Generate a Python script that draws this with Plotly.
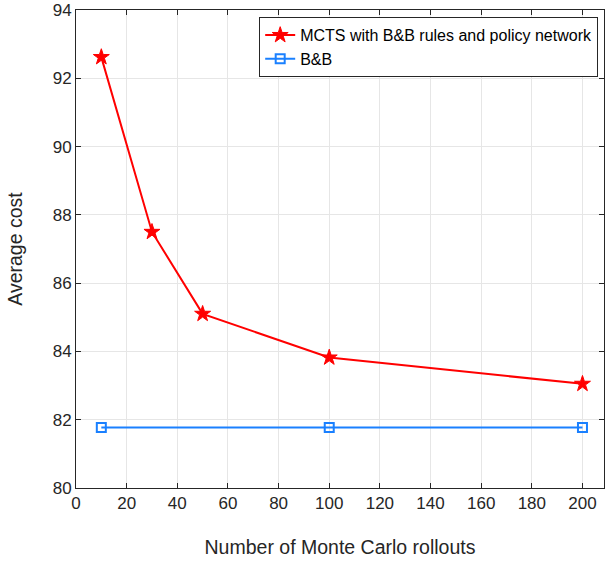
import plotly.graph_objects as go

rollouts = [10, 30, 50, 100, 200]
mcts_cost = [92.62, 87.50, 85.10, 83.82, 83.05]
bb_x = [10, 100, 200]
bb_cost = [81.77, 81.77, 81.77]

x_ticks = list(range(0, 201, 20))
y_ticks = list(range(80, 95, 2))

FONT = "Liberation Sans, Arial, sans-serif"

fig = go.Figure()
fig.add_trace(go.Scatter(
    x=rollouts, y=mcts_cost, mode="lines+markers",
    name="MCTS with B&B rules and policy network",
    line=dict(color="#ff0000", width=2),
    marker=dict(symbol="star", size=12, color="#ff0000", line=dict(color="#ff0000", width=1)),
))
fig.add_trace(go.Scatter(
    x=bb_x, y=bb_cost, mode="lines+markers", name="B&B",
    line=dict(color="#1a80ff", width=2),
    marker=dict(symbol="square-open", size=9, color="#1a80ff", line=dict(color="#1a80ff", width=2)),
))

axis_common = dict(
    showline=True, linecolor="#262626", linewidth=1, mirror="ticks",
    ticks="inside", ticklen=5, tickcolor="#262626", tickwidth=1,
    showgrid=True, gridcolor="#e6e6e6", gridwidth=1, zeroline=False,
    tickfont=dict(family=FONT, size=17, color="#262626"),
)

fig.update_xaxes(
    range=[0, 208.5], tickvals=x_ticks,
    title=dict(text="Number of Monte Carlo rollouts",
               font=dict(family=FONT, size=19.5, color="#262626"),
               standoff=27),
    **axis_common,
)
fig.update_yaxes(
    range=[80, 94], tickvals=y_ticks,
    title=dict(text="Average cost",
               font=dict(family=FONT, size=19.5, color="#262626"),
               standoff=24),
    **axis_common,
)

fig.update_layout(
    width=605, height=562,
    margin=dict(l=76, r=1, t=10, b=74, autoexpand=False),
    paper_bgcolor="white", plot_bgcolor="white",
    showlegend=True,
    legend=dict(
        x=0.989, y=0.985, xanchor="right", yanchor="top",
        bgcolor="white", bordercolor="#262626", borderwidth=1,
        font=dict(family=FONT, size=16, color="#000000"),
        itemwidth=30, tracegroupgap=0,
    ),
)

fig.write_html("out.html")
